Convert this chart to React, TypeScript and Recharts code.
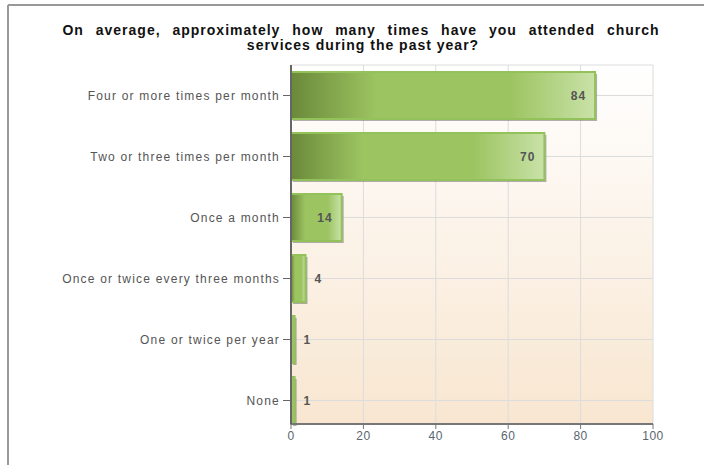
import { BarChart, Bar, XAxis, YAxis, CartesianGrid, LabelList } from 'recharts';

const categories = [
  'Four or more times per month',
  'Two or three times per month',
  'Once a month',
  'Once or twice every three months',
  'One or twice per year',
  'None',
];
const counts = [84, 70, 14, 4, 1, 1];
const xTicks = [0, 20, 40, 60, 80, 100];

const data = categories.map((name, i) => ({ name, value: counts[i] }));

// bar with a soft grey drop shadow, like the old survey export
const BarShape = (props: any) => {
  const { x, y, width, height } = props;
  if (!width || width <= 0) return null;
  return (
    <g>
      <rect x={x + 2} y={y + 2} width={width} height={height} fill="#6f6f6f" opacity={0.55} />
      <rect x={x} y={y} width={width} height={height} fill="url(#barGrad)" stroke="#93c25a" strokeWidth={2} />
    </g>
  );
};

const ValueLabel = (props: any) => {
  const { x, y, width, height, value } = props;
  const inside = width > 30;
  return (
    <text
      x={inside ? x + width - 9 : x + width + 9}
      y={y + height / 2}
      dy={4}
      textAnchor={inside ? 'end' : 'start'}
      fill="#555"
      fontSize={12}
      fontWeight="bold"
      fontFamily="Liberation Sans, Arial, sans-serif"
      letterSpacing={1}
    >
      {value}
    </text>
  );
};

export default function App() {
  return (
    <div style={{ position: 'absolute', left: 0, top: 0, width: 704, height: 465, background: '#fff' }}>
      <svg width={704} height={465} style={{ position: 'absolute', left: 0, top: 0 }}>
        <line x1={8} y1={5} x2={704} y2={5} stroke="#999" strokeWidth={2} />
        <line x1={8} y1={5} x2={8} y2={465} stroke="#999" strokeWidth={2} />
        <g fontFamily="Liberation Sans, Arial, sans-serif" fontSize={14} fontWeight="bold" fill="#111" letterSpacing={1}>
          <text x={361} y={35} textAnchor="middle" wordSpacing={7}>
            On average, approximately how many times have you attended church
          </text>
          <text x={363} y={50} textAnchor="middle">
            services during the past year?
          </text>
        </g>
      </svg>
      <div style={{ position: 'absolute', left: 0, top: 0 }}>
        <BarChart
          width={704}
          height={465}
          data={data}
          layout="vertical"
          margin={{ top: 65, right: 51, bottom: 11, left: 0 }}
          barSize={47}
        >
          <defs>
            <linearGradient id="barGrad" x1="0" y1="0" x2="1" y2="0">
              <stop offset="0%" stopColor="#6a893a" />
              <stop offset="28%" stopColor="#9cc461" />
              <stop offset="72%" stopColor="#9cc461" />
              <stop offset="100%" stopColor="#c9e2a8" />
            </linearGradient>
            <linearGradient id="bgGrad" x1="0" y1="0" x2="0" y2="1">
              <stop offset="0%" stopColor="#ffffff" />
              <stop offset="100%" stopColor="#f8e6d0" />
            </linearGradient>
          </defs>
          <CartesianGrid stroke="#dcdcdc" fill="url(#bgGrad)" fillOpacity={1} />
          <XAxis
            type="number"
            domain={[0, 100]}
            ticks={xTicks}
            height={30}
            axisLine={{ stroke: '#777', strokeWidth: 2 }}
            tickLine={{ stroke: '#777' }}
            tickSize={5}
            tick={{ fill: '#5a6570', fontSize: 12, fontFamily: 'Liberation Sans, Arial, sans-serif', letterSpacing: 0.5 }}
          />
          <YAxis
            type="category"
            dataKey="name"
            width={291}
            padding={{ top: 0, bottom: -7 }}
            axisLine={{ stroke: '#666', strokeWidth: 2 }}
            tickLine={{ stroke: '#666' }}
            tickSize={8}
            tickMargin={3}
            interval={0}
            tick={{ fill: '#555', fontSize: 12, fontFamily: 'Liberation Sans, Arial, sans-serif', letterSpacing: 1.2 }}
          />
          <Bar dataKey="value" shape={<BarShape />} isAnimationActive={false}>
            <LabelList dataKey="value" content={<ValueLabel />} />
          </Bar>
        </BarChart>
      </div>
    </div>
  );
}
